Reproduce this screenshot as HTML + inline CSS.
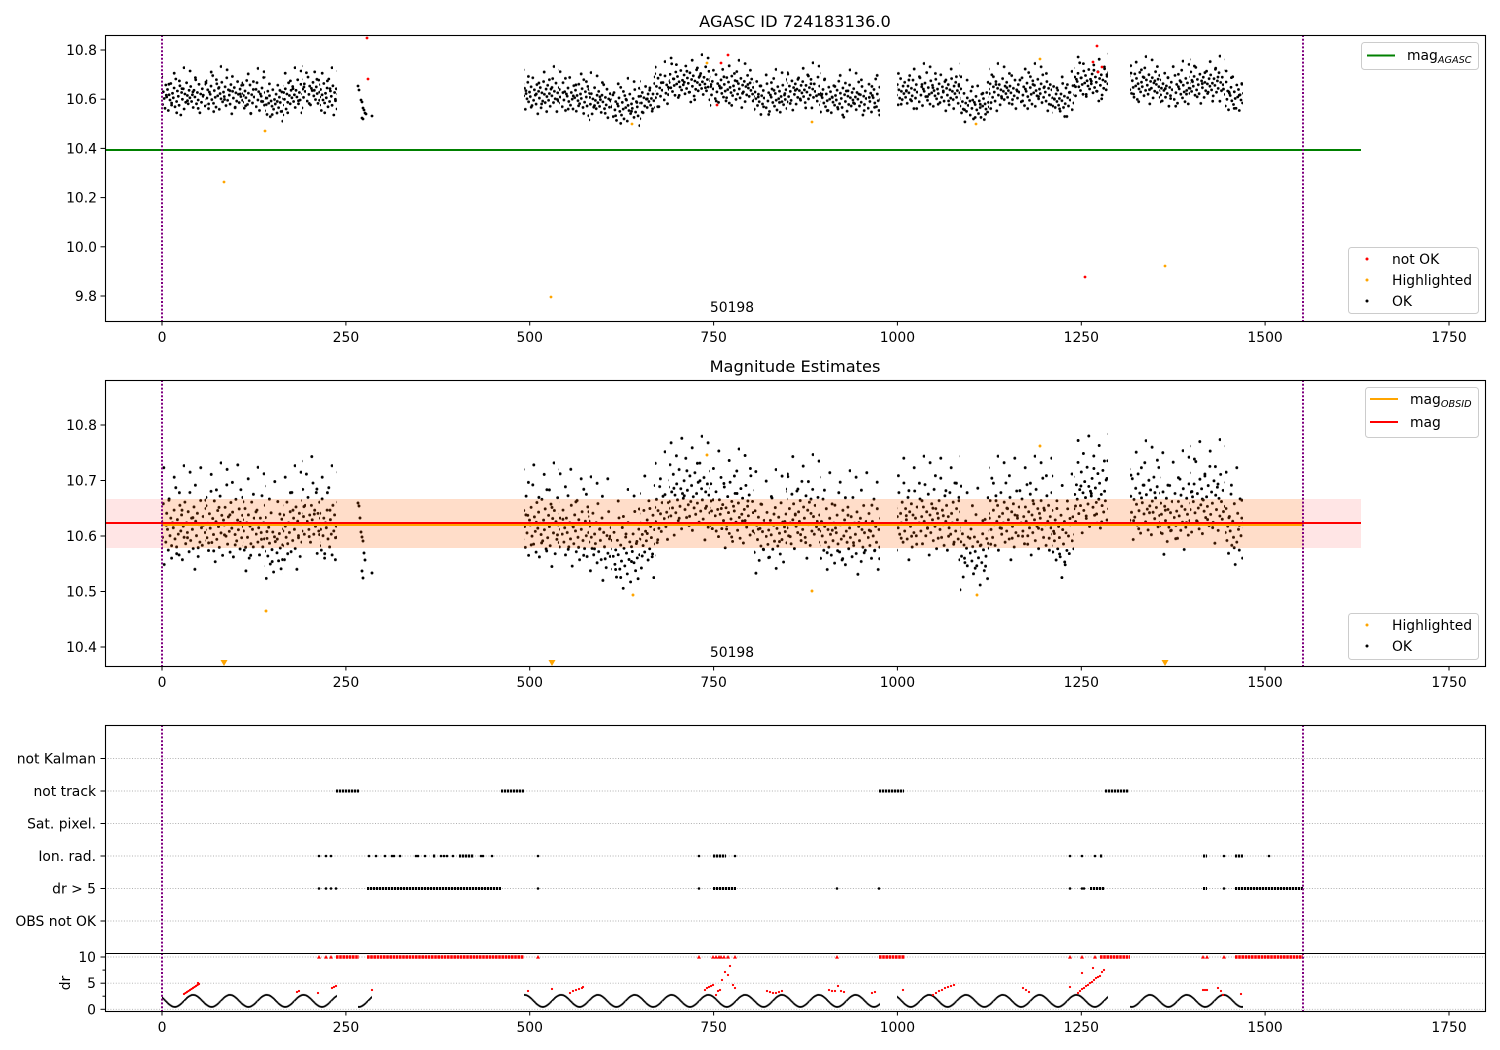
<!DOCTYPE html>
<html><head><meta charset="utf-8">
<style>
html,body{margin:0;padding:0;background:#fff;}
svg{display:block;font-family:"DejaVu Sans","Liberation Sans",sans-serif;}
</style></head><body>
<svg width="1500" height="1050" viewBox="0 0 1500 1050" xmlns="http://www.w3.org/2000/svg">
<rect width="1500" height="1050" fill="#fff"/>
<defs>
<clipPath id="c1"><rect x="105" y="35" width="1380" height="286"/></clipPath>
<clipPath id="c2"><rect x="105" y="380" width="1380" height="286"/></clipPath>
<clipPath id="c3"><rect x="105" y="725" width="1380" height="286"/></clipPath>
<pattern id="p2d" patternUnits="userSpaceOnUse" x="0" y="0" width="51" height="100">
<g fill="#000">
<circle cx="1.2" cy="54.8" r="1.45"/><circle cx="2.0" cy="30.8" r="1.45"/><circle cx="2.9" cy="62.8" r="1.45"/><circle cx="3.7" cy="48.4" r="1.45"/><circle cx="4.5" cy="75.6" r="1.45"/><circle cx="5.4" cy="38.8" r="1.45"/><circle cx="6.2" cy="53.2" r="1.45"/><circle cx="7.0" cy="16.4" r="1.45"/><circle cx="7.8" cy="67.6" r="1.45"/><circle cx="8.7" cy="43.6" r="1.45"/><circle cx="9.5" cy="59.6" r="1.45"/><circle cx="10.3" cy="26" r="1.45"/><circle cx="11.2" cy="86.8" r="1.45"/><circle cx="12.0" cy="46.8" r="1.45"/><circle cx="12.8" cy="64.4" r="1.45"/><circle cx="13.7" cy="35.6" r="1.45"/><circle cx="14.5" cy="51.6" r="1.45"/><circle cx="15.3" cy="72.4" r="1.45"/><circle cx="16.1" cy="21.2" r="1.45"/><circle cx="17.0" cy="58" r="1.45"/><circle cx="17.8" cy="40.4" r="1.45"/><circle cx="18.6" cy="80.4" r="1.45"/><circle cx="19.5" cy="45.2" r="1.45"/><circle cx="20.3" cy="50" r="1.45"/><circle cx="21.1" cy="32.4" r="1.45"/><circle cx="22.0" cy="61.2" r="1.45"/><circle cx="22.8" cy="10" r="1.45"/><circle cx="23.6" cy="69.2" r="1.45"/><circle cx="24.4" cy="42" r="1.45"/><circle cx="25.3" cy="56.4" r="1.45"/><circle cx="26.1" cy="77.2" r="1.45"/><circle cx="26.9" cy="27.6" r="1.45"/><circle cx="27.8" cy="53.2" r="1.45"/><circle cx="28.6" cy="37.2" r="1.45"/><circle cx="29.4" cy="82" r="1.45"/><circle cx="30.3" cy="48.4" r="1.45"/><circle cx="31.1" cy="59.6" r="1.45"/><circle cx="31.9" cy="24.4" r="1.45"/><circle cx="32.7" cy="66" r="1.45"/><circle cx="33.6" cy="45.2" r="1.45"/><circle cx="34.4" cy="54.8" r="1.45"/><circle cx="35.2" cy="34" r="1.45"/><circle cx="36.1" cy="74" r="1.45"/><circle cx="36.9" cy="14.8" r="1.45"/><circle cx="37.7" cy="62.8" r="1.45"/><circle cx="38.6" cy="40.4" r="1.45"/><circle cx="39.4" cy="51.6" r="1.45"/><circle cx="40.2" cy="70.8" r="1.45"/><circle cx="41.0" cy="29.2" r="1.45"/><circle cx="41.9" cy="91.6" r="1.45"/><circle cx="42.7" cy="43.6" r="1.45"/><circle cx="43.5" cy="58" r="1.45"/><circle cx="44.4" cy="35.6" r="1.45"/><circle cx="45.2" cy="78.8" r="1.45"/><circle cx="46.0" cy="46.8" r="1.45"/><circle cx="46.9" cy="64.4" r="1.45"/><circle cx="47.7" cy="22.8" r="1.45"/><circle cx="48.5" cy="50" r="1.45"/><circle cx="49.3" cy="67.6" r="1.45"/><circle cx="50.2" cy="38.8" r="1.45"/>
</g>
</pattern>
<pattern id="p2o" patternUnits="userSpaceOnUse" x="0" y="-20" width="37" height="140">
<g fill="#000">
<circle cx="2.5" cy="80" r="1.45"/><circle cx="5.1" cy="14.5" r="1.45"/><circle cx="7.9" cy="60" r="1.45"/><circle cx="10.4" cy="27.5" r="1.45"/><circle cx="13.2" cy="90" r="1.45"/><circle cx="15.8" cy="10" r="1.45"/><circle cx="18.3" cy="67.5" r="1.45"/><circle cx="20.9" cy="42.5" r="1.45"/><circle cx="23.6" cy="88" r="1.45"/><circle cx="26.2" cy="19.5" r="1.45"/><circle cx="28.7" cy="96" r="1.45"/><circle cx="31.4" cy="35" r="1.45"/><circle cx="34.0" cy="52.5" r="1.45"/><circle cx="36.1" cy="8" r="1.45"/>
</g>
</pattern>
<pattern id="p1d" patternUnits="userSpaceOnUse" x="0" y="0" width="51" height="44">
<g fill="#000">
<circle cx="1.2" cy="32.5" r="1.4"/><circle cx="2.0" cy="8.5" r="1.4"/><circle cx="2.9" cy="25.8" r="1.4"/><circle cx="3.7" cy="17.5" r="1.4"/><circle cx="4.5" cy="36.3" r="1.4"/><circle cx="5.4" cy="19.8" r="1.4"/><circle cx="6.2" cy="22" r="1.4"/><circle cx="7.0" cy="13.8" r="1.4"/><circle cx="7.8" cy="27.3" r="1.4"/><circle cx="8.7" cy="3.3" r="1.4"/><circle cx="9.5" cy="31" r="1.4"/><circle cx="10.3" cy="18.3" r="1.4"/><circle cx="11.2" cy="25" r="1.4"/><circle cx="12.0" cy="34.8" r="1.4"/><circle cx="12.8" cy="11.5" r="1.4"/><circle cx="13.7" cy="23.5" r="1.4"/><circle cx="14.5" cy="16" r="1.4"/><circle cx="15.3" cy="37" r="1.4"/><circle cx="16.1" cy="21.3" r="1.4"/><circle cx="17.0" cy="26.5" r="1.4"/><circle cx="17.8" cy="10" r="1.4"/><circle cx="18.6" cy="29.5" r="1.4"/><circle cx="19.5" cy="19.8" r="1.4"/><circle cx="20.3" cy="24.3" r="1.4"/><circle cx="21.1" cy="14.5" r="1.4"/><circle cx="22.0" cy="33.3" r="1.4"/><circle cx="22.8" cy="5.5" r="1.4"/><circle cx="23.6" cy="28" r="1.4"/><circle cx="24.4" cy="17.5" r="1.4"/><circle cx="25.3" cy="22.8" r="1.4"/><circle cx="26.1" cy="31.8" r="1.4"/><circle cx="26.9" cy="12.3" r="1.4"/><circle cx="27.8" cy="41.5" r="1.4"/><circle cx="28.6" cy="19" r="1.4"/><circle cx="29.4" cy="25.8" r="1.4"/><circle cx="30.3" cy="15.3" r="1.4"/><circle cx="31.1" cy="35.5" r="1.4"/><circle cx="31.9" cy="20.5" r="1.4"/><circle cx="32.7" cy="28.8" r="1.4"/><circle cx="33.6" cy="9.3" r="1.4"/><circle cx="34.4" cy="22" r="1.4"/><circle cx="35.2" cy="30.3" r="1.4"/><circle cx="36.1" cy="16.8" r="1.4"/><circle cx="36.9" cy="24.3" r="1.4"/><circle cx="37.7" cy="13" r="1.4"/><circle cx="38.6" cy="28" r="1.4"/><circle cx="39.4" cy="21.3" r="1.4"/><circle cx="40.2" cy="34" r="1.4"/><circle cx="41.0" cy="16.8" r="1.4"/><circle cx="41.9" cy="23.5" r="1.4"/><circle cx="42.7" cy="6.3" r="1.4"/><circle cx="43.5" cy="30.3" r="1.4"/><circle cx="44.4" cy="19" r="1.4"/><circle cx="45.2" cy="26.5" r="1.4"/><circle cx="46.0" cy="10.8" r="1.4"/><circle cx="46.9" cy="39.3" r="1.4"/><circle cx="47.7" cy="20.5" r="1.4"/><circle cx="48.5" cy="28.8" r="1.4"/><circle cx="49.3" cy="15.3" r="1.4"/><circle cx="50.2" cy="22.8" r="1.4"/>
</g>
</pattern>
<pattern id="p1o" patternUnits="userSpaceOnUse" x="0" y="-8" width="37" height="60">
<g fill="#000">
<circle cx="2.5" cy="35.2" r="1.4"/><circle cx="5.1" cy="5.5" r="1.4"/><circle cx="7.9" cy="26.4" r="1.4"/><circle cx="10.4" cy="12.1" r="1.4"/><circle cx="13.2" cy="42.9" r="1.4"/><circle cx="15.8" cy="-2.2" r="1.4"/><circle cx="18.3" cy="29.7" r="1.4"/><circle cx="20.9" cy="18.7" r="1.4"/><circle cx="23.6" cy="39.6" r="1.4"/><circle cx="26.2" cy="7.7" r="1.4"/><circle cx="28.7" cy="47.3" r="1.4"/><circle cx="31.4" cy="15.4" r="1.4"/><circle cx="34.0" cy="23.1" r="1.4"/><circle cx="36.1" cy="2.2" r="1.4"/>
</g>
</pattern>
<pattern id="pdr" patternUnits="userSpaceOnUse" x="0" y="990.9" width="36.8" height="20">
<g fill="#000">
<circle cx="0.6" cy="9.39" r="1.0"/><circle cx="1.8" cy="8.19" r="1.0"/><circle cx="3.0" cy="7.06" r="1.0"/><circle cx="4.2" cy="6.06" r="1.0"/><circle cx="5.4" cy="5.22" r="1.0"/><circle cx="6.6" cy="4.58" r="1.0"/><circle cx="7.8" cy="4.17" r="1.0"/><circle cx="9.0" cy="4.0" r="1.0"/><circle cx="10.2" cy="4.09" r="1.0"/><circle cx="11.4" cy="4.42" r="1.0"/><circle cx="12.6" cy="4.98" r="1.0"/><circle cx="13.8" cy="5.76" r="1.0"/><circle cx="15.0" cy="6.71" r="1.0"/><circle cx="16.2" cy="7.8" r="1.0"/><circle cx="17.4" cy="8.98" r="1.0"/><circle cx="18.6" cy="10.21" r="1.0"/><circle cx="19.8" cy="11.42" r="1.0"/><circle cx="21.0" cy="12.57" r="1.0"/><circle cx="22.2" cy="13.63" r="1.0"/><circle cx="23.4" cy="14.52" r="1.0"/><circle cx="24.6" cy="15.23" r="1.0"/><circle cx="25.8" cy="15.72" r="1.0"/><circle cx="27.0" cy="15.97" r="1.0"/><circle cx="28.2" cy="15.97" r="1.0"/><circle cx="29.4" cy="15.72" r="1.0"/><circle cx="30.6" cy="15.23" r="1.0"/><circle cx="31.8" cy="14.52" r="1.0"/><circle cx="33.0" cy="13.63" r="1.0"/><circle cx="34.2" cy="12.57" r="1.0"/><circle cx="35.4" cy="11.42" r="1.0"/><circle cx="36.6" cy="10.21" r="1.0"/>
</g>
</pattern>
</defs>

<text x="795" y="27" font-size="16.2" text-anchor="middle">AGASC ID 724183136.0</text>
<text x="795" y="372" font-size="16.2" text-anchor="middle">Magnitude Estimates</text>

<g stroke="#b0b0b0" stroke-width="0.9" stroke-dasharray="1,1.7">
<line x1="105" x2="1485" y1="758.5" y2="758.5"/>
<line x1="105" x2="1485" y1="791" y2="791"/>
<line x1="105" x2="1485" y1="823.5" y2="823.5"/>
<line x1="105" x2="1485" y1="856" y2="856"/>
<line x1="105" x2="1485" y1="888.5" y2="888.5"/>
<line x1="105" x2="1485" y1="921" y2="921"/>
<line x1="105" x2="1485" y1="957" y2="957"/>
<line x1="105" x2="1485" y1="983.2" y2="983.2"/>
<line x1="105" x2="1485" y1="1009.3" y2="1009.3"/>
</g>

<g clip-path="url(#c1)">
<g transform="translate(0,73.5)"><rect x="162" y="0" width="44" height="44" fill="url(#p1d)"/><rect x="162" y="-8" width="44" height="60" fill="url(#p1o)"/></g>
<g transform="translate(0,72.3)"><rect x="206" y="0" width="37" height="44" fill="url(#p1d)"/><rect x="206" y="-8" width="37" height="60" fill="url(#p1o)"/></g>
<g transform="translate(0,74.2)"><rect x="243" y="0" width="22" height="44" fill="url(#p1d)"/><rect x="243" y="-8" width="22" height="60" fill="url(#p1o)"/></g>
<g transform="translate(0,79.7)"><rect x="265" y="0" width="18" height="44" fill="url(#p1d)"/><rect x="265" y="-8" width="18" height="60" fill="url(#p1o)"/></g>
<g transform="translate(0,73.5)"><rect x="283" y="0" width="19" height="44" fill="url(#p1d)"/><rect x="283" y="-8" width="19" height="60" fill="url(#p1o)"/></g>
<g transform="translate(0,68.6)"><rect x="302" y="0" width="18" height="44" fill="url(#p1d)"/><rect x="302" y="-8" width="18" height="60" fill="url(#p1o)"/></g>
<g transform="translate(0,73.5)"><rect x="320" y="0" width="17" height="44" fill="url(#p1d)"/><rect x="320" y="-8" width="17" height="60" fill="url(#p1o)"/></g>
<g transform="translate(0,72.3)"><rect x="524" y="0" width="35" height="44" fill="url(#p1d)"/><rect x="524" y="-8" width="35" height="60" fill="url(#p1o)"/></g>
<g transform="translate(0,74.2)"><rect x="559" y="0" width="30" height="44" fill="url(#p1d)"/><rect x="559" y="-8" width="30" height="60" fill="url(#p1o)"/></g>
<g transform="translate(0,78.4)"><rect x="589" y="0" width="22" height="44" fill="url(#p1d)"/><rect x="589" y="-8" width="22" height="60" fill="url(#p1o)"/></g>
<g transform="translate(0,84.1)"><rect x="611" y="0" width="29" height="44" fill="url(#p1d)"/><rect x="611" y="-8" width="29" height="60" fill="url(#p1o)"/></g>
<g transform="translate(0,77.2)"><rect x="640" y="0" width="15" height="44" fill="url(#p1d)"/><rect x="640" y="-8" width="15" height="60" fill="url(#p1o)"/></g>
<g transform="translate(0,67.4)"><rect x="655" y="0" width="14" height="44" fill="url(#p1d)"/><rect x="655" y="-8" width="14" height="60" fill="url(#p1o)"/></g>
<g transform="translate(0,60.5)"><rect x="669" y="0" width="41" height="44" fill="url(#p1d)"/><rect x="669" y="-8" width="41" height="60" fill="url(#p1o)"/></g>
<g transform="translate(0,66.1)"><rect x="710" y="0" width="44" height="44" fill="url(#p1d)"/><rect x="710" y="-8" width="44" height="60" fill="url(#p1o)"/></g>
<g transform="translate(0,75.2)"><rect x="754" y="0" width="33" height="44" fill="url(#p1d)"/><rect x="754" y="-8" width="33" height="60" fill="url(#p1o)"/></g>
<g transform="translate(0,68.6)"><rect x="787" y="0" width="33" height="44" fill="url(#p1d)"/><rect x="787" y="-8" width="33" height="60" fill="url(#p1o)"/></g>
<g transform="translate(0,75.7)"><rect x="820" y="0" width="60" height="44" fill="url(#p1d)"/><rect x="820" y="-8" width="60" height="60" fill="url(#p1o)"/></g>
<g transform="translate(0,69.3)"><rect x="897" y="0" width="63" height="44" fill="url(#p1d)"/><rect x="897" y="-8" width="63" height="60" fill="url(#p1o)"/></g>
<g transform="translate(0,82.6)"><rect x="960" y="0" width="29" height="44" fill="url(#p1d)"/><rect x="960" y="-8" width="29" height="60" fill="url(#p1o)"/></g>
<g transform="translate(0,69.3)"><rect x="989" y="0" width="63" height="44" fill="url(#p1d)"/><rect x="989" y="-8" width="63" height="60" fill="url(#p1o)"/></g>
<g transform="translate(0,77.2)"><rect x="1052" y="0" width="22" height="44" fill="url(#p1d)"/><rect x="1052" y="-8" width="22" height="60" fill="url(#p1o)"/></g>
<g transform="translate(0,59.5)"><rect x="1074" y="0" width="34" height="44" fill="url(#p1d)"/><rect x="1074" y="-8" width="34" height="60" fill="url(#p1o)"/></g>
<g transform="translate(0,62.4)"><rect x="1130" y="0" width="30" height="44" fill="url(#p1d)"/><rect x="1130" y="-8" width="30" height="60" fill="url(#p1o)"/></g>
<g transform="translate(0,66.9)"><rect x="1160" y="0" width="30" height="44" fill="url(#p1d)"/><rect x="1160" y="-8" width="30" height="60" fill="url(#p1o)"/></g>
<g transform="translate(0,61.9)"><rect x="1190" y="0" width="35" height="44" fill="url(#p1d)"/><rect x="1190" y="-8" width="35" height="60" fill="url(#p1o)"/></g>
<g transform="translate(0,73.5)"><rect x="1225" y="0" width="18" height="44" fill="url(#p1d)"/><rect x="1225" y="-8" width="18" height="60" fill="url(#p1o)"/></g>
<g fill="#000">
<circle cx="358" cy="86" r="1.4"/><circle cx="359" cy="90" r="1.4"/><circle cx="361" cy="100" r="1.4"/><circle cx="362" cy="102" r="1.4"/><circle cx="363" cy="108" r="1.4"/><circle cx="364" cy="110" r="1.4"/><circle cx="365" cy="113" r="1.4"/><circle cx="362" cy="118" r="1.4"/><circle cx="363" cy="119" r="1.4"/><circle cx="366" cy="114" r="1.4"/><circle cx="372" cy="116" r="1.4"/>
</g>
<g fill="#ff0000">
<circle cx="367" cy="38" r="1.4"/><circle cx="368" cy="79" r="1.4"/><circle cx="717" cy="105" r="1.4"/><circle cx="721" cy="63" r="1.4"/><circle cx="728" cy="55" r="1.4"/><circle cx="1097" cy="46" r="1.4"/><circle cx="1085" cy="277" r="1.4"/><circle cx="1098" cy="72" r="1.4"/><circle cx="1102" cy="67" r="1.4"/><circle cx="1093" cy="62" r="1.4"/>
</g>
<g fill="#ffa500">
<circle cx="265" cy="131" r="1.4"/><circle cx="224" cy="182" r="1.4"/><circle cx="551" cy="297" r="1.4"/><circle cx="632" cy="124" r="1.4"/><circle cx="707" cy="63" r="1.4"/><circle cx="812" cy="122" r="1.4"/><circle cx="976" cy="124" r="1.4"/><circle cx="1040" cy="59" r="1.4"/><circle cx="1165" cy="266" r="1.4"/>
</g>
</g>

<g clip-path="url(#c2)">
<g transform="translate(0,477.7)"><rect x="162" y="0" width="44" height="100" fill="url(#p2d)"/><rect x="162" y="-20" width="44" height="140" fill="url(#p2o)"/></g>
<g transform="translate(0,474.9)"><rect x="206" y="0" width="37" height="100" fill="url(#p2d)"/><rect x="206" y="-20" width="37" height="140" fill="url(#p2o)"/></g>
<g transform="translate(0,479.3)"><rect x="243" y="0" width="22" height="100" fill="url(#p2d)"/><rect x="243" y="-20" width="22" height="140" fill="url(#p2o)"/></g>
<g transform="translate(0,491.6)"><rect x="265" y="0" width="18" height="100" fill="url(#p2d)"/><rect x="265" y="-20" width="18" height="140" fill="url(#p2o)"/></g>
<g transform="translate(0,477.7)"><rect x="283" y="0" width="19" height="100" fill="url(#p2d)"/><rect x="283" y="-20" width="19" height="140" fill="url(#p2o)"/></g>
<g transform="translate(0,466.6)"><rect x="302" y="0" width="18" height="100" fill="url(#p2d)"/><rect x="302" y="-20" width="18" height="140" fill="url(#p2o)"/></g>
<g transform="translate(0,477.7)"><rect x="320" y="0" width="17" height="100" fill="url(#p2d)"/><rect x="320" y="-20" width="17" height="140" fill="url(#p2o)"/></g>
<g transform="translate(0,474.9)"><rect x="524" y="0" width="35" height="100" fill="url(#p2d)"/><rect x="524" y="-20" width="35" height="140" fill="url(#p2o)"/></g>
<g transform="translate(0,479.3)"><rect x="559" y="0" width="30" height="100" fill="url(#p2d)"/><rect x="559" y="-20" width="30" height="140" fill="url(#p2o)"/></g>
<g transform="translate(0,488.8)"><rect x="589" y="0" width="22" height="100" fill="url(#p2d)"/><rect x="589" y="-20" width="22" height="140" fill="url(#p2o)"/></g>
<g transform="translate(0,501.5)"><rect x="611" y="0" width="29" height="100" fill="url(#p2d)"/><rect x="611" y="-20" width="29" height="140" fill="url(#p2o)"/></g>
<g transform="translate(0,486)"><rect x="640" y="0" width="15" height="100" fill="url(#p2d)"/><rect x="640" y="-20" width="15" height="140" fill="url(#p2o)"/></g>
<g transform="translate(0,463.8)"><rect x="655" y="0" width="14" height="100" fill="url(#p2d)"/><rect x="655" y="-20" width="14" height="140" fill="url(#p2o)"/></g>
<g transform="translate(0,448.3)"><rect x="669" y="0" width="41" height="100" fill="url(#p2d)"/><rect x="669" y="-20" width="41" height="140" fill="url(#p2o)"/></g>
<g transform="translate(0,461)"><rect x="710" y="0" width="44" height="100" fill="url(#p2d)"/><rect x="710" y="-20" width="44" height="140" fill="url(#p2o)"/></g>
<g transform="translate(0,481.6)"><rect x="754" y="0" width="33" height="100" fill="url(#p2d)"/><rect x="754" y="-20" width="33" height="140" fill="url(#p2o)"/></g>
<g transform="translate(0,466.6)"><rect x="787" y="0" width="33" height="100" fill="url(#p2d)"/><rect x="787" y="-20" width="33" height="140" fill="url(#p2o)"/></g>
<g transform="translate(0,482.7)"><rect x="820" y="0" width="60" height="100" fill="url(#p2d)"/><rect x="820" y="-20" width="60" height="140" fill="url(#p2o)"/></g>
<g transform="translate(0,468.2)"><rect x="897" y="0" width="63" height="100" fill="url(#p2d)"/><rect x="897" y="-20" width="63" height="140" fill="url(#p2o)"/></g>
<g transform="translate(0,498.2)"><rect x="960" y="0" width="29" height="100" fill="url(#p2d)"/><rect x="960" y="-20" width="29" height="140" fill="url(#p2o)"/></g>
<g transform="translate(0,468.2)"><rect x="989" y="0" width="63" height="100" fill="url(#p2d)"/><rect x="989" y="-20" width="63" height="140" fill="url(#p2o)"/></g>
<g transform="translate(0,486)"><rect x="1052" y="0" width="22" height="100" fill="url(#p2d)"/><rect x="1052" y="-20" width="22" height="140" fill="url(#p2o)"/></g>
<g transform="translate(0,446)"><rect x="1074" y="0" width="34" height="100" fill="url(#p2d)"/><rect x="1074" y="-20" width="34" height="140" fill="url(#p2o)"/></g>
<g transform="translate(0,452.7)"><rect x="1130" y="0" width="30" height="100" fill="url(#p2d)"/><rect x="1130" y="-20" width="30" height="140" fill="url(#p2o)"/></g>
<g transform="translate(0,462.7)"><rect x="1160" y="0" width="30" height="100" fill="url(#p2d)"/><rect x="1160" y="-20" width="30" height="140" fill="url(#p2o)"/></g>
<g transform="translate(0,451.6)"><rect x="1190" y="0" width="35" height="100" fill="url(#p2d)"/><rect x="1190" y="-20" width="35" height="140" fill="url(#p2o)"/></g>
<g transform="translate(0,477.7)"><rect x="1225" y="0" width="18" height="100" fill="url(#p2d)"/><rect x="1225" y="-20" width="18" height="140" fill="url(#p2o)"/></g>
<g fill="#000">
<circle cx="358" cy="503" r="1.45"/><circle cx="359" cy="506" r="1.45"/><circle cx="360" cy="518" r="1.45"/><circle cx="361" cy="532" r="1.45"/><circle cx="362" cy="537" r="1.45"/><circle cx="363" cy="541" r="1.45"/><circle cx="364" cy="553" r="1.45"/><circle cx="365" cy="560" r="1.45"/><circle cx="362" cy="571" r="1.45"/><circle cx="363" cy="578" r="1.45"/><circle cx="372" cy="573" r="1.45"/>
</g>
<g fill="#ffa500">
<circle cx="266" cy="611" r="1.45"/><circle cx="633" cy="595" r="1.45"/><circle cx="707" cy="455" r="1.45"/><circle cx="812" cy="591" r="1.45"/><circle cx="977" cy="595" r="1.45"/><circle cx="1040" cy="446" r="1.45"/>
<polygon points="220.5,660 227.5,660 224,666"/>
<polygon points="548.5,660 555.5,660 552,666"/>
<polygon points="1161.5,660 1168.5,660 1165,666"/>
</g>
</g>

<line x1="105" x2="1361" y1="150" y2="150" stroke="#008000" stroke-width="2"/>

<rect x="105" y="499" width="1256" height="49" fill="#ff0000" fill-opacity="0.1"/>
<rect x="162" y="499" width="1141" height="49" fill="#ffa500" fill-opacity="0.12"/>
<line x1="162" x2="1303" y1="525" y2="525" stroke="#ffa500" stroke-width="2"/>
<line x1="105" x2="1361" y1="523" y2="523" stroke="#ff0000" stroke-width="2"/>

<g clip-path="url(#c3)">
<g fill="url(#pdr)">
<rect x="162" y="990.9" width="175" height="20"/>
<rect x="358" y="990.9" width="14" height="20"/>
<rect x="524" y="990.9" width="356" height="20"/>
<rect x="897" y="990.9" width="211" height="20"/>
<rect x="1130" y="990.9" width="113" height="20"/>
</g>
<path fill="none" stroke="#ff0000" stroke-width="2.3" stroke-linecap="round" d="M184 994h0M185.5 993h0M187 992h0M188.5 991h0M190 990h0M191.5 989h0M193 988h0M194.5 987h0M196 986h0M197.5 985h0M199 984h0M198 983h0M297 992h0M299 991h0M318 993h0M332 988h0M334 987h0M336 986h0M372 990h0M528 991h0M552 989h0M570 993h0M573 991h0M576 990h0M579 989h0M582 988h0M583 987h0M705 990h0M707 988h0M709 987h0M711 986h0M713 985h0M716 995h0M718 991h0M720 990h0M722 980h0M725 972h0M728 975h0M730 966h0M733 985h0M735 988h0M767 991h0M770 992h0M773 993h0M776 993h0M779 992h0M782 991h0M829 990h0M832 991h0M835 991h0M838 986h0M841 991h0M844 992h0M872 993h0M875 992h0M903 990h0M933 995h0M936 993h0M939 991h0M942 990h0M945 988h0M948 987h0M951 986h0M954 985h0M1023 988h0M1026 990h0M1029 992h0M1070 987h0M1078 993h0M1080 991h0M1082 989h0M1084 988h0M1086 986h0M1088 985h0M1090 983h0M1092 982h0M1094 980h0M1096 978h0M1098 977h0M1093 968h0M1100 976h0M1102 972h0M1104 970h0M1082 973h0M1203 990h0M1205 990h0M1207 990h0M1218 988h0M1221 991h0M1223 995h0M1241 994h0"/>

<g stroke="#ff0000" stroke-width="3.6" stroke-dasharray="2.6,0.6">
<line x1="336" x2="359" y1="957" y2="957"/>
<line x1="367" x2="524" y1="957" y2="957"/>
<line x1="879" x2="905" y1="957" y2="957"/>
<line x1="1100" x2="1130" y1="957" y2="957"/>
<line x1="1235" x2="1303" y1="957" y2="957"/>
</g>
<g fill="#ff0000">
<polygon points="317,958.6 321,958.6 319,955"/>
<polygon points="324,958.6 328,958.6 326,955"/>
<polygon points="329,958.6 333,958.6 331,955"/>
<polygon points="536,958.6 540,958.6 538,955"/>
<polygon points="697,958.6 701,958.6 699,955"/>
<polygon points="711,958.6 715,958.6 713,955"/>
<polygon points="714,958.6 718,958.6 716,955"/>
<polygon points="717,958.6 721,958.6 719,955"/>
<polygon points="719,958.6 723,958.6 721,955"/>
<polygon points="722,958.6 726,958.6 724,955"/>
<polygon points="726,958.6 730,958.6 728,955"/>
<polygon points="733,958.6 737,958.6 735,955"/>
<polygon points="835,958.6 839,958.6 837,955"/>
<polygon points="1068,958.6 1072,958.6 1070,955"/>
<polygon points="1080,958.6 1084,958.6 1082,955"/>
<polygon points="1093,958.6 1097,958.6 1095,955"/>
<polygon points="1201,958.6 1205,958.6 1203,955"/>
<polygon points="1205,958.6 1209,958.6 1207,955"/>
<polygon points="1222,958.6 1226,958.6 1224,955"/>
</g>

<g stroke="#000" stroke-width="3" stroke-dasharray="2.2,0.8">
<line x1="336" x2="359" y1="791" y2="791"/>
<line x1="501" x2="524" y1="791" y2="791"/>
<line x1="879" x2="904" y1="791" y2="791"/>
<line x1="1105" x2="1129" y1="791" y2="791"/>
<line x1="433" x2="436" y1="856" y2="856"/>
<line x1="459" x2="474" y1="856" y2="856"/>
<line x1="713" x2="726" y1="856" y2="856"/>
<line x1="1100" x2="1103" y1="856" y2="856"/>
<line x1="1203" x2="1207" y1="856" y2="856"/>
<line x1="1235" x2="1243" y1="856" y2="856"/>
<line x1="367" x2="501" y1="888.5" y2="888.5"/>
<line x1="713" x2="736" y1="888.5" y2="888.5"/>
<line x1="1090" x2="1105" y1="888.5" y2="888.5"/>
<line x1="1203" x2="1207" y1="888.5" y2="888.5"/>
<line x1="1235" x2="1303" y1="888.5" y2="888.5"/>
</g>
<path fill="none" stroke="#000" stroke-width="2.6" stroke-linecap="round" d="M319 856h0M326 856h0M331 856h0M369 856h0M376 856h0M385 856h0M392 856h0M394 856h0M400 856h0M416 856h0M418 856h0M425 856h0M441 856h0M444 856h0M447 856h0M453 856h0M481 856h0M483 856h0M492 856h0M538 856h0M699 856h0M735 856h0M1070 856h0M1082 856h0M1095 856h0M1224 856h0M1269 856h0M319 888.5h0M326 888.5h0M331 888.5h0M336 888.5h0M538 888.5h0M699 888.5h0M837 888.5h0M879 888.5h0M1070 888.5h0M1082 888.5h0M1084 888.5h0M1224 888.5h0"/>
</g>

<g stroke="#800080" stroke-width="2" stroke-dasharray="2,1.8">
<line x1="162" x2="162" y1="35" y2="321"/>
<line x1="1303" x2="1303" y1="35" y2="321"/>
<line x1="162" x2="162" y1="380" y2="666"/>
<line x1="1303" x2="1303" y1="380" y2="666"/>
<line x1="162" x2="162" y1="725" y2="1011"/>
<line x1="1303" x2="1303" y1="725" y2="1011"/>
</g>

<text x="732" y="312" font-size="13.9" text-anchor="middle">50198</text>
<text x="732" y="657" font-size="13.9" text-anchor="middle">50198</text>

<g fill="none" stroke="#000" stroke-width="1.1">
<rect x="105.5" y="35.5" width="1380" height="286"/>
<rect x="105.5" y="380.5" width="1380" height="286"/>
<rect x="105.5" y="725.5" width="1380" height="286"/>
<line x1="105" x2="1486" y1="953.5" y2="953.5"/>
</g>

<g stroke="#000" stroke-width="1">
<line x1="162" x2="162" y1="321" y2="325.5"/><line x1="345.9" x2="345.9" y1="321" y2="325.5"/><line x1="529.7" x2="529.7" y1="321" y2="325.5"/><line x1="713.6" x2="713.6" y1="321" y2="325.5"/><line x1="897.4" x2="897.4" y1="321" y2="325.5"/><line x1="1081.3" x2="1081.3" y1="321" y2="325.5"/><line x1="1265.1" x2="1265.1" y1="321" y2="325.5"/><line x1="1449" x2="1449" y1="321" y2="325.5"/>
<line x1="162" x2="162" y1="666" y2="670.5"/><line x1="345.9" x2="345.9" y1="666" y2="670.5"/><line x1="529.7" x2="529.7" y1="666" y2="670.5"/><line x1="713.6" x2="713.6" y1="666" y2="670.5"/><line x1="897.4" x2="897.4" y1="666" y2="670.5"/><line x1="1081.3" x2="1081.3" y1="666" y2="670.5"/><line x1="1265.1" x2="1265.1" y1="666" y2="670.5"/><line x1="1449" x2="1449" y1="666" y2="670.5"/>
<line x1="162" x2="162" y1="1011" y2="1015.5"/><line x1="345.9" x2="345.9" y1="1011" y2="1015.5"/><line x1="529.7" x2="529.7" y1="1011" y2="1015.5"/><line x1="713.6" x2="713.6" y1="1011" y2="1015.5"/><line x1="897.4" x2="897.4" y1="1011" y2="1015.5"/><line x1="1081.3" x2="1081.3" y1="1011" y2="1015.5"/><line x1="1265.1" x2="1265.1" y1="1011" y2="1015.5"/><line x1="1449" x2="1449" y1="1011" y2="1015.5"/>
</g>
<g font-size="13.9" text-anchor="middle">
<text x="162" y="342">0</text><text x="345.9" y="342">250</text><text x="529.7" y="342">500</text><text x="713.6" y="342">750</text><text x="897.4" y="342">1000</text><text x="1081.3" y="342">1250</text><text x="1265.1" y="342">1500</text><text x="1449" y="342">1750</text>
<text x="162" y="687">0</text><text x="345.9" y="687">250</text><text x="529.7" y="687">500</text><text x="713.6" y="687">750</text><text x="897.4" y="687">1000</text><text x="1081.3" y="687">1250</text><text x="1265.1" y="687">1500</text><text x="1449" y="687">1750</text>
<text x="162" y="1032">0</text><text x="345.9" y="1032">250</text><text x="529.7" y="1032">500</text><text x="713.6" y="1032">750</text><text x="897.4" y="1032">1000</text><text x="1081.3" y="1032">1250</text><text x="1265.1" y="1032">1500</text><text x="1449" y="1032">1750</text>
</g>

<g stroke="#000" stroke-width="1">
<line x1="100.5" x2="105" y1="50" y2="50"/>
<line x1="100.5" x2="105" y1="99.2" y2="99.2"/>
<line x1="100.5" x2="105" y1="148.4" y2="148.4"/>
<line x1="100.5" x2="105" y1="197.6" y2="197.6"/>
<line x1="100.5" x2="105" y1="246.8" y2="246.8"/>
<line x1="100.5" x2="105" y1="296" y2="296"/>
<line x1="100.5" x2="105" y1="425" y2="425"/>
<line x1="100.5" x2="105" y1="480.5" y2="480.5"/>
<line x1="100.5" x2="105" y1="536" y2="536"/>
<line x1="100.5" x2="105" y1="591.5" y2="591.5"/>
<line x1="100.5" x2="105" y1="647" y2="647"/>
<line x1="100.5" x2="105" y1="758.5" y2="758.5"/>
<line x1="100.5" x2="105" y1="791" y2="791"/>
<line x1="100.5" x2="105" y1="823.5" y2="823.5"/>
<line x1="100.5" x2="105" y1="856" y2="856"/>
<line x1="100.5" x2="105" y1="888.5" y2="888.5"/>
<line x1="100.5" x2="105" y1="921" y2="921"/>
<line x1="100.5" x2="105" y1="957" y2="957"/>
<line x1="100.5" x2="105" y1="983.2" y2="983.2"/>
<line x1="100.5" x2="105" y1="1009.3" y2="1009.3"/>
<line x1="102.5" x2="105" y1="970.1" y2="970.1"/>
<line x1="102.5" x2="105" y1="996.2" y2="996.2"/>
</g>
<g font-size="13.9" text-anchor="end">
<text x="97" y="55">10.8</text>
<text x="97" y="104.2">10.6</text>
<text x="97" y="153.4">10.4</text>
<text x="97" y="202.6">10.2</text>
<text x="97" y="251.8">10.0</text>
<text x="97" y="301">9.8</text>
<text x="97" y="430">10.8</text>
<text x="97" y="485.5">10.7</text>
<text x="97" y="541">10.6</text>
<text x="97" y="596.5">10.5</text>
<text x="97" y="652">10.4</text>
<text x="96" y="763.5">not Kalman</text>
<text x="96" y="796">not track</text>
<text x="96" y="828.5">Sat. pixel.</text>
<text x="96" y="861">Ion. rad.</text>
<text x="96" y="893.5">dr &gt; 5</text>
<text x="96" y="926">OBS not OK</text>
<text x="96" y="962">10</text>
<text x="96" y="988.2">5</text>
<text x="96" y="1014.3">0</text>
</g>
<text x="0" y="0" font-size="13.9" text-anchor="middle" transform="translate(70,983) rotate(-90)">dr</text>

<g>
<rect x="1361.5" y="42.5" width="117" height="27" rx="3" fill="#fff" fill-opacity="0.8" stroke="#cccccc"/>
<line x1="1367" x2="1395" y1="55.5" y2="55.5" stroke="#008000" stroke-width="2"/>
<text x="1407" y="60" font-size="13.9">mag<tspan font-size="9.7" font-style="italic" dy="3">AGASC</tspan></text>

<rect x="1348.5" y="247.5" width="130" height="66" rx="3" fill="#fff" fill-opacity="0.8" stroke="#cccccc"/>
<circle cx="1367" cy="259" r="1.5" fill="#ff0000"/>
<circle cx="1367" cy="280" r="1.5" fill="#ffa500"/>
<circle cx="1367" cy="301" r="1.5" fill="#000"/>
<text x="1392" y="264" font-size="13.9">not OK</text>
<text x="1392" y="285" font-size="13.9">Highlighted</text>
<text x="1392" y="306" font-size="13.9">OK</text>

<rect x="1365.5" y="387.5" width="113" height="50" rx="3" fill="#fff" fill-opacity="0.8" stroke="#cccccc"/>
<line x1="1370" x2="1398" y1="399" y2="399" stroke="#ffa500" stroke-width="2"/>
<line x1="1370" x2="1398" y1="422" y2="422" stroke="#ff0000" stroke-width="2"/>
<text x="1410" y="404" font-size="13.9">mag<tspan font-size="9.7" font-style="italic" dy="3">OBSID</tspan></text>
<text x="1410" y="427" font-size="13.9">mag</text>

<rect x="1348.5" y="613.5" width="130" height="46" rx="3" fill="#fff" fill-opacity="0.8" stroke="#cccccc"/>
<circle cx="1367" cy="625" r="1.5" fill="#ffa500"/>
<circle cx="1367" cy="646" r="1.5" fill="#000"/>
<text x="1392" y="630" font-size="13.9">Highlighted</text>
<text x="1392" y="651" font-size="13.9">OK</text>
</g>
</svg>
</body></html>
